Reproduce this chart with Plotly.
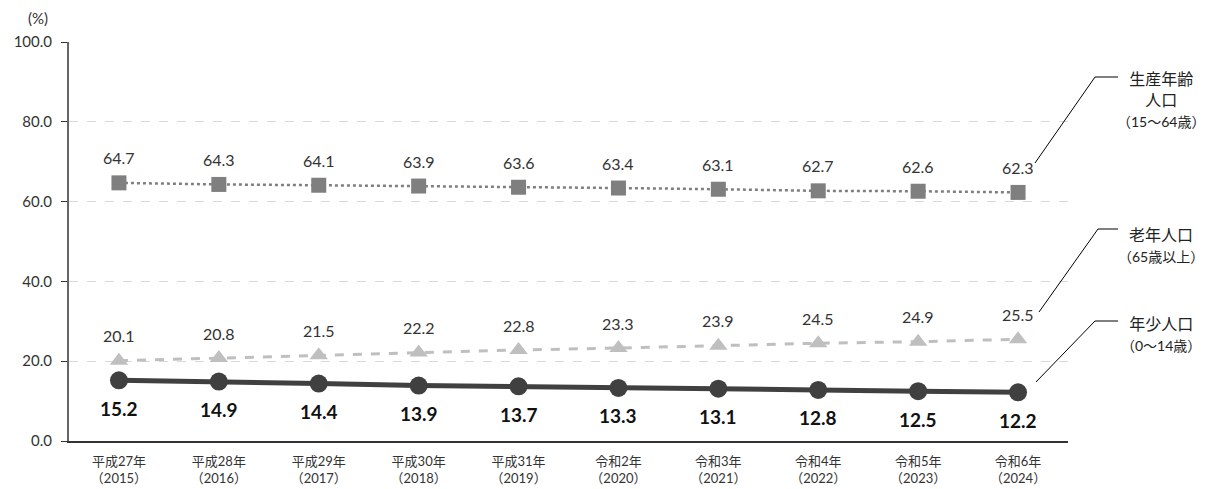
import plotly.graph_objects as go

# 年度ラベル
years = ["平成27年<br>（2015）", "平成28年<br>（2016）", "平成29年<br>（2017）", "平成30年<br>（2018）",
         "平成31年<br>（2019）", "令和2年<br>（2020）", "令和3年<br>（2021）", "令和4年<br>（2022）",
         "令和5年<br>（2023）", "令和6年<br>（2024）"]

working_age = [64.7, 64.3, 64.1, 63.9, 63.6, 63.4, 63.1, 62.7, 62.6, 62.3]
elderly = [20.1, 20.8, 21.5, 22.2, 22.8, 23.3, 23.9, 24.5, 24.9, 25.5]
young = [15.2, 14.9, 14.4, 13.9, 13.7, 13.3, 13.1, 12.8, 12.5, 12.2]

y_ticks = [0, 20, 40, 60, 80, 100]

FONT = "Century Gothic, Lato, Noto Sans CJK JP, sans-serif"

fig = go.Figure()

# 生産年齢人口
fig.add_trace(go.Scatter(
    x=years, y=working_age, mode="lines+markers",
    line=dict(color="#7F7F7F", width=2.5, dash="dot"),
    marker=dict(symbol="square", size=15, color="#7F7F7F"),
    cliponaxis=False, showlegend=False,
))

# 老年人口
fig.add_trace(go.Scatter(
    x=years, y=elderly, mode="lines+markers",
    line=dict(color="#BFBFBF", width=3, dash="dash"),
    marker=dict(symbol="triangle-up", size=16, color="#BFBFBF"),
    cliponaxis=False, showlegend=False,
))

# 年少人口
fig.add_trace(go.Scatter(
    x=years, y=young, mode="lines+markers",
    line=dict(color="#404040", width=5),
    marker=dict(symbol="circle", size=18, color="#404040"),
    cliponaxis=False, showlegend=False,
))

# データラベル
for series, shift, bold, size in [(working_age, 25, False, 16), (elderly, 25, False, 16), (young, -28, True, 19)]:
    for x, v in zip(years, series):
        txt = f"<b>{v:.1f}</b>" if bold else f"{v:.1f}"
        fig.add_annotation(x=x, y=v, text=txt, showarrow=False, yshift=shift,
                           xanchor="center", yanchor="middle",
                           font=dict(size=size, color="#111111" if bold else "#333333", family=FONT))

# 系列名の引き出し線と注記
callouts = [
    ((1035, 163), (1095, 77), "生産年齢<br>人口<br><span style='font-size:14px'>（15～64歳）</span>", 99),
    ((1039, 312), (1098, 229), "老年人口<br><span style='font-size:14px'>（65歳以上）</span>", 245),
    ((1036, 382), (1095, 321), "年少人口<br><span style='font-size:14px'>（0～14歳）</span>", 334),
]
W, H = 1208, 489
for (x0, y0), (x1, y1), label, ty in callouts:
    fig.add_shape(type="line", xref="paper", yref="paper",
                  x0=(x0 - 69) / 999, y0=(441 - y0) / 399,
                  x1=(x1 - 69) / 999, y1=(441 - y1) / 399,
                  line=dict(color="#000000", width=1))
    fig.add_shape(type="line", xref="paper", yref="paper",
                  x0=(x1 - 69) / 999, y0=(441 - y1) / 399,
                  x1=(1118 - 69) / 999, y1=(441 - y1) / 399,
                  line=dict(color="#000000", width=1))
    fig.add_annotation(xref="paper", yref="paper",
                       x=(1161 - 69) / 999, y=(441 - ty) / 399,
                       text=label, showarrow=False, align="center",
                       xanchor="center", yanchor="middle",
                       font=dict(size=16, color="#222222", family=FONT))

fig.add_annotation(xref="paper", yref="paper", x=(38 - 69) / 999, y=(441 - 18) / 399,
                   text="(%)", showarrow=False, xanchor="center", yanchor="middle",
                   font=dict(size=15, color="#333333", family=FONT))

fig.update_layout(
    width=W, height=H,
    margin=dict(l=69, r=140, t=42, b=48),
    plot_bgcolor="white", paper_bgcolor="white",
    font=dict(family=FONT, color="#333333"),
    xaxis=dict(
        type="category", range=[-0.5, 9.5], automargin=False,
        showline=True, linecolor="#333333", linewidth=1.5,
        showgrid=False, ticks="", tickfont=dict(size=13, color="#333333"),
        ticklabelstandoff=8,
    ),
    yaxis=dict(
        range=[0, 100], tickvals=y_ticks, ticktext=[f"{v:.1f}" for v in y_ticks],
        automargin=False,
        showline=True, linecolor="#666666", linewidth=2,
        ticks="outside", ticklen=6, tickcolor="#333333",
        showgrid=True, gridcolor="#D9D9D9", griddash="dash", gridwidth=1,
        zeroline=False, tickfont=dict(size=15, color="#333333"),
        ticklabelstandoff=6,
    ),
)

fig.write_html("out.html", config={"displayModeBar": False},
               post_script="document.body.style.margin='0';")
